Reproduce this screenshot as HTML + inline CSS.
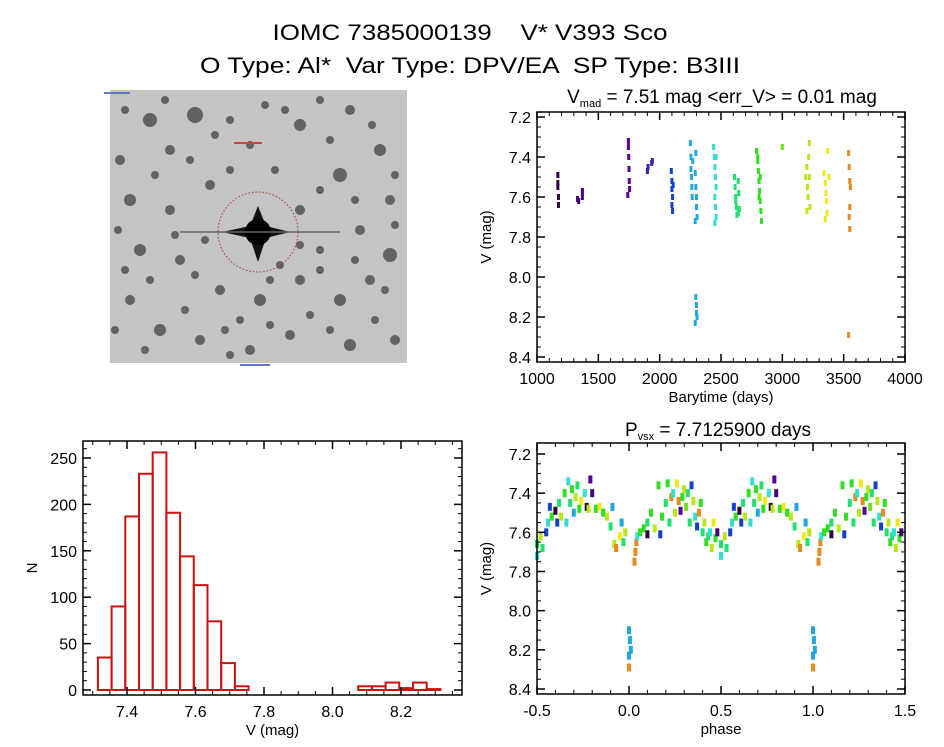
<!DOCTYPE html>
<html><head><meta charset="utf-8"><style>
html,body{margin:0;padding:0;background:#fff}
svg{display:block;font-family:"Liberation Sans",sans-serif}
text{white-space:pre}
</style></head><body>
<svg id="fig" width="944" height="747" viewBox="0 0 944 747" xmlns="http://www.w3.org/2000/svg">
<text x="470" y="40" font-size="22" text-anchor="middle" textLength="395" lengthAdjust="spacingAndGlyphs">IOMC 7385000139    V* V393 Sco</text>
<text x="470" y="73" font-size="22" text-anchor="middle" textLength="540" lengthAdjust="spacingAndGlyphs">O Type: Al*  Var Type: DPV/EA  SP Type: B3III</text>
<g id="sky"></g>
<g id="lc"></g>
<g id="hist"></g>
<g id="ph"></g>
</svg>
<script>
// ---- light curve data ----
const lcT=[1170,1170,1175,1175,1170,1330,1340,1370,1370,1745,1745,1748,1750,1752,1755,1740,1900,1905,1935,1940,
2095,2100,2100,2105,2110,2100,2105,2250,2255,2255,2260,2262,2265,2270,2290,2295,2300,2300,2305,2290,2295,2300,2300,2305,2290,2295,
2440,2445,2450,2455,2460,2450,2455,2460,2450,2460,
2610,2615,2620,2625,2630,2640,2645,2650,2620,2640,
2790,2800,2805,2810,2815,2820,2825,2830,2800,2820,2810,
3000,3190,3200,3205,3210,3215,3220,3225,3200,3220,
3340,3350,3355,3360,3365,3370,3380,3350,
3540,3545,3550,3555,3550,3545,3550,3540];
const lcM=[7.49,7.53,7.6,7.64,7.55,7.61,7.62,7.57,7.6,7.32,7.35,7.4,7.46,7.52,7.56,7.59,7.47,7.45,7.43,7.42,
7.47,7.52,7.56,7.6,7.54,7.64,7.67,7.33,7.4,7.46,7.5,7.55,7.6,7.42,7.48,7.55,7.6,7.65,7.7,7.72,8.1,8.14,8.18,8.2,8.23,7.38,
7.35,7.4,7.45,7.5,7.55,7.6,7.65,7.7,7.73,7.4,
7.5,7.55,7.6,7.65,7.69,7.52,7.58,7.66,7.62,7.68,
7.37,7.42,7.47,7.52,7.57,7.62,7.67,7.72,7.4,7.5,7.6,
7.35,7.5,7.45,7.55,7.6,7.4,7.33,7.65,7.67,7.5,
7.48,7.53,7.58,7.62,7.68,7.37,7.5,7.71,
7.38,7.45,7.52,7.55,7.65,7.7,7.76,8.29];
const lcXTicks=[1000,1500,2000,2500,3000,3500,4000];
const vTicks=[7.2,7.4,7.6,7.8,8.0,8.2,8.4];
// ---- histogram data ----
const histStart=7.315, histWidth=0.04;
const histCounts=[35,90,187,233,256,191,144,113,74,29,4,0,0,0,0,0,0,0,0,4,4,8,2,8,1];
const histXTicks=[7.4,7.6,7.8,8.0,8.2];
const histYTicks=[0,50,100,150,200,250];
// ---- phase data ----
const phP=[0.0,0.005,0.01,0.0,0.0,0.03,0.035,0.04,0.045,0.06,0.08,0.1,0.1,0.12,0.14,0.16,0.17,0.18,0.2,0.21,0.22,0.23,0.24,0.25,0.26,0.27,0.28,0.29,0.3,0.31,0.32,0.33,0.34,0.35,0.36,0.37,0.38,0.39,0.4,0.41,0.42,0.43,0.44,0.45,0.46,0.47,0.48,0.5,0.5,0.52,0.53,0.55,0.56,0.57,0.58,0.6,0.61,0.62,0.63,0.65,0.66,0.67,0.68,0.69,0.7,0.71,0.72,0.73,0.74,0.76,0.77,0.78,0.79,0.8,0.82,0.84,0.86,0.88,0.9,0.91,0.92,0.93,0.95,0.96,0.97,0.98];
const phM=[8.10,8.15,8.2,8.23,8.29,7.75,7.7,7.65,7.62,7.6,7.58,7.55,7.61,7.5,7.58,7.36,7.61,7.52,7.45,7.35,7.55,7.42,7.4,7.5,7.35,7.44,7.49,7.42,7.38,7.47,7.4,7.55,7.36,7.44,7.52,7.57,7.5,7.45,7.6,7.55,7.65,7.62,7.6,7.68,7.55,7.63,7.6,7.72,7.66,7.62,7.68,7.6,7.55,7.47,7.52,7.49,7.55,7.45,7.52,7.4,7.55,7.34,7.45,7.38,7.5,7.42,7.36,7.48,7.44,7.4,7.47,7.48,7.33,7.4,7.48,7.47,7.5,7.52,7.57,7.47,7.66,7.68,7.62,7.55,7.65,7.6];
const phSeason=[5,5,5,5,12,12,12,12,6,8,8,7,0,8,10,8,4,8,7,8,7,12,6,10,11,12,2,8,10,9,7,7,4,10,6,4,12,8,7,10,8,7,6,10,11,8,1,6,7,10,7,4,6,4,8,0,4,7,10,8,6,6,7,8,5,10,7,8,11,6,0,10,2,1,8,11,8,10,7,5,10,12,11,5,7,10];
const phXTicks=[-0.5,0.0,0.5,1.0,1.5];

const NS="http://www.w3.org/2000/svg";
function mk(parent,tag,attrs){const e=document.createElementNS(NS,tag);for(const k in attrs)e.setAttribute(k,attrs[k]);parent.appendChild(e);return e;}
const seasonColors=["#300040","#45007a","#5a0090","#3a20b0","#1040d0","#20a8e0","#30e0d0","#20e070","#30e020","#70e020","#b8e818","#f0e818","#e88a20"];
const seasonStarts=[1100,1300,1700,1880,2050,2200,2400,2580,2750,2950,3150,3300,3500];
function seasonOf(t){let s=0;for(let i=0;i<seasonStarts.length;i++)if(t>=seasonStarts[i])s=i;return s;}

function axes(g,x0,x1,y0,y1,xs,ys,xt,yt,xmin,ymin,xfmt,yfmt,xlab,ylab,name){
  const box=mk(g,'rect',{x:x0,y:y0,width:x1-x0,height:y1-y0,fill:'none',stroke:'#000','stroke-width':1.5});
  
  
  xt.forEach(v=>{const X=xs(v);
    mk(g,'line',{x1:X,x2:X,y1:y1,y2:y1-8,stroke:'#000','stroke-width':1.5});
    mk(g,'line',{x1:X,x2:X,y1:y0,y2:y0+8,stroke:'#000','stroke-width':1.5});
    const t=mk(g,'text',{x:X,y:y1+22,'font-size':16,'text-anchor':'middle'});t.textContent=xfmt(v);
    
    
  });
  xmin.forEach(v=>{const X=xs(v);
    mk(g,'line',{x1:X,x2:X,y1:y1,y2:y1-4,stroke:'#000'});
    mk(g,'line',{x1:X,x2:X,y1:y0,y2:y0+4,stroke:'#000'});});
  yt.forEach(v=>{const Y=ys(v);
    mk(g,'line',{x1:x0,x2:x0+8,y1:Y,y2:Y,stroke:'#000','stroke-width':1.5});
    mk(g,'line',{x1:x1,x2:x1-8,y1:Y,y2:Y,stroke:'#000','stroke-width':1.5});
    const t=mk(g,'text',{x:x0-6,y:Y+6,'font-size':16,'text-anchor':'end'});t.textContent=yfmt(v);
    
    
  });
  ymin.forEach(v=>{const Y=ys(v);
    mk(g,'line',{x1:x0,x2:x0+4,y1:Y,y2:Y,stroke:'#000'});
    mk(g,'line',{x1:x1,x2:x1-4,y1:Y,y2:Y,stroke:'#000'});});
  const xl=mk(g,'text',{x:(x0+x1)/2,y:y1+40,'font-size':15,'text-anchor':'middle'});xl.textContent=xlab;
  
  
  const yl=mk(g,'text',{x:0,y:0,'font-size':15,'text-anchor':'middle',transform:`translate(${x0-46},${(y0+y1)/2}) rotate(-90)`});yl.textContent=ylab;
  
  
}
function range(a,b,s){const r=[];for(let v=a;v<=b+1e-9;v+=s)r.push(+v.toFixed(4));return r;}
const f1=v=>v.toFixed(1), f0=v=>String(v);

// ---- sky image ----
(function(){
  const g=document.getElementById('sky');
  mk(g,'rect',{x:110,y:90,width:297,height:273,fill:'#c4c4c4'});
  const blobs=[[150,120,7],[195,115,8],[170,150,5],[250,145,4],[300,125,6],[350,110,5],[380,150,6],[340,175,7],[390,200,5],[130,200,6],[170,210,5],[210,185,5],[300,210,5],[360,230,5],[390,255,7],[140,250,6],[180,260,5],[220,290,5],[260,300,6],[300,280,5],[340,300,6],[130,300,5],[160,330,6],[200,340,5],[250,350,5],[290,335,5],[350,345,6],[395,340,5],[120,160,5],[230,120,4],[275,170,4],[320,250,4],[370,280,5],[150,280,4],[240,320,4],[285,110,4],[205,240,4],[330,140,4],
  [125,110,4],[165,100,4],[215,135,4],[265,105,4],[320,100,4],[372,125,4],[395,175,4],[118,230,4],[155,175,4],[190,160,4],[230,170,4],[320,190,4],[355,200,4],[395,225,4],[300,245,4],[175,235,4],[125,270,4],[195,275,4],[280,265,4],[320,270,4],[355,260,4],[385,290,4],[115,330,4],[145,350,4],[185,310,4],[225,330,4],[270,325,4],[310,315,4],[375,320,4],[330,330,4],[230,355,4],[270,280,4]];
  blobs.forEach(b=>mk(g,'circle',{cx:b[0],cy:b[1],r:b[2],fill:'#3a3a3a',opacity:0.7}));
  mk(g,'path',{d:'M258 206 L266 226 L290 232 L266 238 L258 262 L250 238 L222 232 L250 226 Z',fill:'#111'});
  mk(g,'circle',{cx:258,cy:232,r:13,fill:'#000'});
  mk(g,'line',{x1:180,x2:340,y1:232,y2:232,stroke:'#666','stroke-width':1.5});
  mk(g,'circle',{cx:258,cy:232,r:40,fill:'none',stroke:'#b03030','stroke-dasharray':'1.5 2'});
  mk(g,'rect',{x:104,y:92,width:26,height:2,fill:'#6677bb'});
  mk(g,'rect',{x:234,y:142,width:28,height:2,fill:'#cc4444'});
  mk(g,'rect',{x:240,y:364,width:30,height:2,fill:'#6677bb'});
})();

// ---- light curve ----
(function(){
  const g=document.getElementById('lc');
  const xs=v=>537+(v-1000)/3000*368, ys=v=>117+(v-7.2)/1.2*240;
  lcT.forEach((t,i)=>{const r=mk(g,'rect',{x:xs(t)-1.5,y:ys(lcM[i])-3,width:3,height:6,fill:seasonColors[seasonOf(t)]});
    
    });
  axes(g,537,905,112,362,xs,ys,lcXTicks,vTicks,range(1000,4000,100),range(7.2,8.4,0.05),f0,f1,'Barytime (days)','V (mag)','lc');
  const t=mk(g,'text',{x:722,y:103,'font-size':19,'text-anchor':'middle'});
  t.innerHTML='V<tspan font-size="11" dy="4">mad</tspan><tspan dy="-4"> = 7.51 mag &lt;err_V&gt; = 0.01 mag</tspan>';
  
  
})();

// ---- histogram ----
(function(){
  const g=document.getElementById('hist');
  const xs=v=>127+(v-7.4)*342.5, ys=v=>690-v/250*232;
  histCounts.forEach((c,i)=>{const a=histStart+i*histWidth;
    const r=mk(g,'rect',{x:xs(a),y:ys(c),width:histWidth*342.5,height:ys(0)-ys(c),fill:'none',stroke:'#cc1111','stroke-width':2});
    
    });
  axes(g,83,462,441,695,xs,ys,histXTicks,histYTicks,range(7.3,8.35,0.05),range(0,260,10),f1,f0,'V (mag)','N','hist');
})();

// ---- phase ----
(function(){
  const g=document.getElementById('ph');
  const xs=v=>537+(v+0.5)/2*368, ys=v=>454+(v-7.2)/1.2*235;
  phP.forEach((p,i)=>{
    const copies=[p, p>=0.5?p-1:p+1];
    copies.forEach(q=>{const r=mk(g,'rect',{x:xs(q)-2,y:ys(phM[i])-4,width:4,height:8,fill:seasonColors[phSeason[i]]});
      
      });
  });
  axes(g,537,905,443,694,xs,ys,phXTicks,vTicks,range(-0.5,1.5,0.1),range(7.2,8.4,0.05),f1,f1,'phase','V (mag)','phase');
  const t=mk(g,'text',{x:718,y:436,'font-size':19,'text-anchor':'middle'});
  t.innerHTML='P<tspan font-size="11" dy="4">vsx</tspan><tspan dy="-4"> = 7.7125900 days</tspan>';
  
  
})();
</script>
</body></html>
